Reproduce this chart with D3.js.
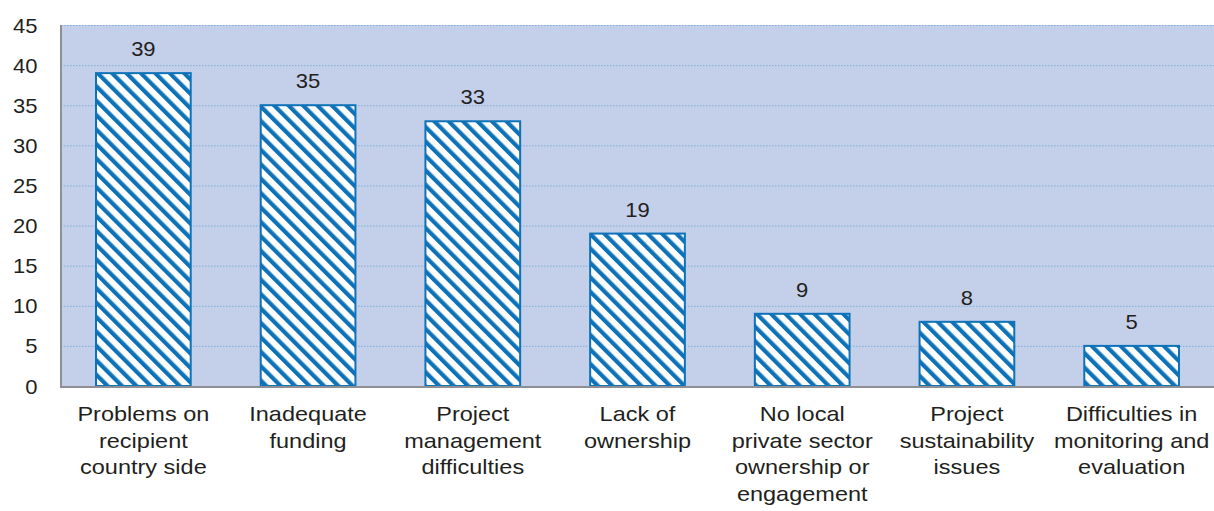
<!DOCTYPE html>
<html>
<head>
<meta charset="utf-8">
<script src="https://cdn.jsdelivr.net/npm/d3@7"></script>
<style>
  html, body { margin: 0; padding: 0; background: #ffffff; }
  svg { display: block; }
  text { font-family: "Liberation Sans", Arial, sans-serif; fill: #231f20; }
</style>
</head>
<body>
<svg id="chart" width="1214" height="511"></svg>
<script>
// Reported obstacles and how many respondents cited each
const categories = [
  ["Problems on", "recipient", "country side"],
  ["Inadequate", "funding"],
  ["Project", "management", "difficulties"],
  ["Lack of", "ownership"],
  ["No local", "private sector", "ownership or", "engagement"],
  ["Project", "sustainability", "issues"],
  ["Difficulties in", "monitoring and", "evaluation"]
];
const values = [39, 35, 33, 19, 9, 8, 5];
const yTicks = [0, 5, 10, 15, 20, 25, 30, 35, 40, 45];

const svg = d3.select("#chart");
const margin = { top: 25, right: 0, bottom: 125, left: 61 };
const width = 1214, height = 511;
const innerW = width - margin.left - margin.right;
const innerH = height - margin.top - margin.bottom;

// slightly widened type, as in the original layout
const numStretch = 1.1;
const catStretch = 1.12;

const defs = svg.append("defs");
const pat = defs.append("pattern")
  .attr("id", "hatch")
  .attr("patternUnits", "userSpaceOnUse")
  .attr("width", 10.2)
  .attr("height", 10.2)
  .attr("patternTransform", "rotate(-45)");
pat.append("rect").attr("width", 10.2).attr("height", 10.2).attr("fill", "#ffffff");
pat.append("rect").attr("x", 0).attr("y", 0).attr("width", 4.2).attr("height", 10.2).attr("fill", "#0e72b9");

const g = svg.append("g").attr("transform", `translate(${margin.left},${margin.top})`);

const x = d3.scaleBand()
  .domain(d3.range(values.length))
  .range([0, innerW])
  .paddingInner(0.425)
  .paddingOuter(0.2125);

const y = d3.scaleLinear().domain([0, 45]).range([innerH, 0]);

// plot background
g.append("rect")
  .attr("x", 0).attr("y", 0)
  .attr("width", innerW).attr("height", innerH)
  .attr("fill", "#c4d0e9");

// dotted gridlines
g.append("g")
  .selectAll("line")
  .data(yTicks.filter(d => d > 0))
  .join("line")
  .attr("x1", 0).attr("x2", innerW)
  .attr("y1", d => y(d) + 0.5).attr("y2", d => y(d) + 0.5)
  .attr("stroke", "#7eaedc")
  .attr("stroke-width", 1)
  .attr("stroke-dasharray", "1.5,1.5");

// bars
g.append("g")
  .selectAll("rect")
  .data(values)
  .join("rect")
  .attr("x", (d, i) => x(i))
  .attr("y", d => y(d))
  .attr("width", x.bandwidth())
  .attr("height", d => innerH - y(d))
  .attr("fill", "url(#hatch)")
  .attr("stroke", "#0e72b9")
  .attr("stroke-width", 2);

// value labels
g.append("g")
  .selectAll("text")
  .data(values)
  .join("text")
  .attr("transform", (d, i) => `translate(${x(i) + x.bandwidth() / 2},${y(d) - 17}) scale(${numStretch},1)`)
  .attr("text-anchor", "middle")
  .attr("font-size", 20)
  .text(d => d);

// y axis
const yAxis = g.append("g")
  .call(d3.axisLeft(y).tickValues(yTicks).tickSize(0).tickPadding(0));
yAxis.select(".domain").remove();
yAxis.selectAll(".tick text")
  .attr("x", null)
  .attr("transform", `translate(-23.5,0) scale(${numStretch},1)`)
  .attr("font-size", 20)
  .attr("dy", "0.35em")
  .style("font-family", "Liberation Sans, Arial, sans-serif")
  .attr("fill", "#231f20");

// axis lines
g.append("line")
  .attr("x1", 0).attr("x2", 0).attr("y1", 0).attr("y2", innerH + 1)
  .attr("stroke", "#8f8f93").attr("stroke-width", 2);
g.append("line")
  .attr("x1", -1).attr("x2", innerW).attr("y1", innerH + 1).attr("y2", innerH + 1)
  .attr("stroke", "#8f8f93").attr("stroke-width", 2);

// category labels
const cat = g.append("g")
  .selectAll("text")
  .data(categories)
  .join("text")
  .attr("transform", (d, i) => `translate(${x(i) + x.bandwidth() / 2},${innerH + 35}) scale(${catStretch},1)`)
  .attr("text-anchor", "middle")
  .attr("font-size", 21);
cat.selectAll("tspan")
  .data(d => d)
  .join("tspan")
  .attr("x", 0)
  .attr("dy", (d, i) => i === 0 ? 0 : 26.6)
  .text(d => d);
</script>
</body>
</html>
